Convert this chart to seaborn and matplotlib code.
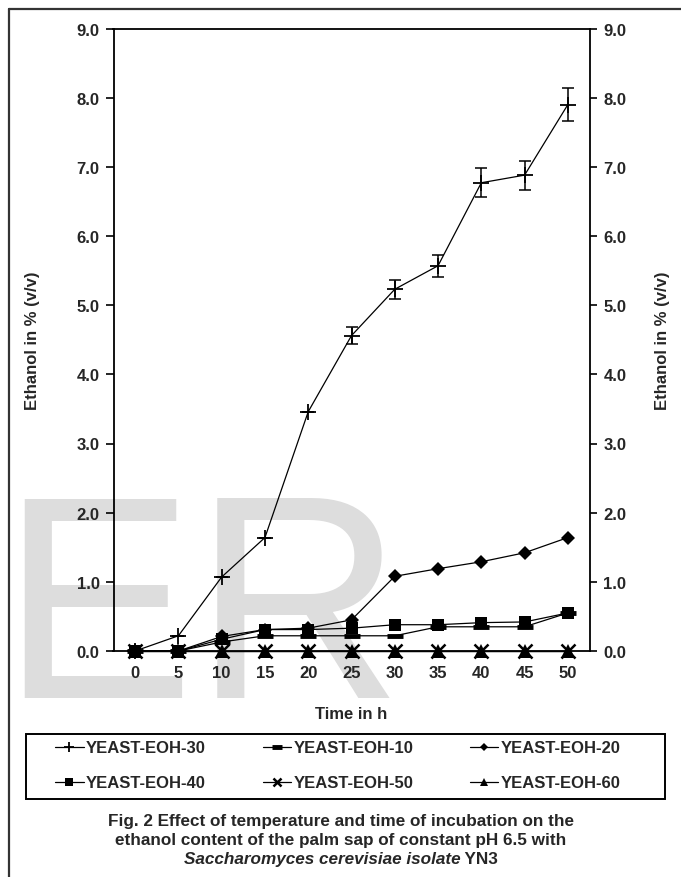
import matplotlib
matplotlib.use("Agg")
import matplotlib.pyplot as plt
from matplotlib.lines import Line2D
from matplotlib.patches import Rectangle
import seaborn as sns

# ---------------- data ----------------
time_h = [0, 5, 10, 15, 20, 25, 30, 35, 40, 45, 50]
eoh_30 = [0.0, 0.22, 1.07, 1.64, 3.46, 4.56, 5.23, 5.57, 6.77, 6.88, 7.90]
eoh_30_err = [0.0, 0.0, 0.0, 0.0, 0.0, 0.12, 0.14, 0.16, 0.21, 0.21, 0.24]
eoh_10 = [0.0, 0.0, 0.13, 0.22, 0.22, 0.22, 0.22, 0.35, 0.35, 0.35, 0.55]
eoh_20 = [0.0, 0.0, 0.21, 0.31, 0.33, 0.45, 1.08, 1.19, 1.29, 1.42, 1.64]
eoh_40 = [0.0, 0.0, 0.17, 0.31, 0.31, 0.33, 0.38, 0.38, 0.41, 0.42, 0.55]
eoh_50 = [0.0, 0.0, 0.0, 0.0, 0.0, 0.0, 0.0, 0.0, 0.0, 0.0, 0.0]
eoh_60 = [0.0, 0.0, 0.0, 0.0, 0.0, 0.0, 0.0, 0.0, 0.0, 0.0, 0.0]
series_names = ["YEAST-EOH-30", "YEAST-EOH-10", "YEAST-EOH-20",
                "YEAST-EOH-40", "YEAST-EOH-50", "YEAST-EOH-60"]
y_ticks = [0.0, 1.0, 2.0, 3.0, 4.0, 5.0, 6.0, 7.0, 8.0, 9.0]
x_tick_labels = ["0", "5", "10", "15", "20", "25", "30", "35", "40", "45", "50"]
y_label = "Ethanol in % (v/v)"
x_label = "Time in h"
caption_1 = "Fig. 2 Effect of temperature and time of incubation on the"
caption_2 = "ethanol content of the palm sap of constant pH 6.5 with"
caption_3_italic = "Saccharomyces cerevisiae isolate"
caption_3_plain = " YN3"
watermark = "ER"

# ---------------- style ----------------
sns.set_style("white")
FONT = ["Liberation Sans", "DejaVu Sans"]
plt.rcParams["font.family"] = FONT
plt.rcParams["font.weight"] = "bold"

W, H = 681, 878
fig = plt.figure(figsize=(W / 100, H / 100), dpi=100)
fig.patch.set_facecolor("white")

def fx(px):
    return px / W

def fy(py):
    return 1 - py / H

ax_l, ax_r, ax_t, ax_b = 113.5, 589.5, 29.5, 652.0
ax = fig.add_axes([fx(ax_l), fy(ax_b), fx(ax_r - ax_l), (ax_b - ax_t) / H])
ax.set_facecolor("none")

styles = {
    "YEAST-EOH-30": dict(marker="+", markersize=12, markeredgewidth=1.3),
    "YEAST-EOH-10": dict(marker="_", markersize=11, markeredgewidth=3.5),
    "YEAST-EOH-20": dict(marker="D", markersize=7.5, markeredgewidth=0),
    "YEAST-EOH-40": dict(marker="s", markersize=8.5, markeredgewidth=0),
    "YEAST-EOH-50": dict(marker="x", markersize=10, markeredgewidth=1.8),
    "YEAST-EOH-60": dict(marker="^", markersize=9.5, markeredgewidth=0),
}
series_vals = [eoh_30, eoh_10, eoh_20, eoh_40, eoh_50, eoh_60]

handles = {}
for name, vals in zip(series_names, series_vals):
    sns.lineplot(x=time_h, y=vals, ax=ax, color="black", linewidth=0.9,
                 markeredgecolor="black", markerfacecolor="black",
                 label=name, legend=False, clip_on=False, **styles[name])
    handles[name] = ax.lines[-1]

ax.errorbar(time_h, eoh_30, yerr=eoh_30_err, fmt="none", ecolor="black",
            elinewidth=1.1, capsize=4.5, capthick=1.1)

ax.set_xlim(-2.5, 52.5)
ax.set_ylim(0, 9)
ax.set_yticks(y_ticks)
ax.set_yticklabels([f"{v:.1f}" for v in y_ticks], fontsize=12, fontweight="bold")
ax.set_xticks(time_h)
ax.set_xticklabels(x_tick_labels, fontsize=12, fontweight="bold")
ax.tick_params(axis="x", which="major", length=0, pad=10)
ax.set_xticks([-2.5, 22.5, 47.5], minor=True)
ax.tick_params(axis="x", which="minor", length=4, width=1.2, direction="out", color="black")
ax.tick_params(axis="y", which="major", length=6, width=1.2, direction="out", color="black", pad=4,
               left=True)
ax.set_xlabel("")
ax.set_ylabel("")
for sp in ax.spines.values():
    sp.set_visible(True)
    sp.set_color("black")
    sp.set_linewidth(1.3)

ax2 = ax.twinx()
ax2.set_ylim(0, 9)
ax2.set_yticks(y_ticks)
ax2.set_yticklabels([f"{v:.1f}" for v in y_ticks], fontsize=12, fontweight="bold")
ax2.tick_params(axis="y", length=5, width=1.2, direction="out", color="black", pad=5, right=True)
for sp in ax2.spines.values():
    sp.set_visible(False)

# axis titles
fig.text(fx(33), fy(341), y_label, rotation=90, ha="center", va="center",
         fontsize=12, fontweight="bold")
fig.text(fx(662), fy(341), y_label, rotation=90, ha="center", va="center",
         fontsize=12, fontweight="bold")
fig.text(fx(351.5), fy(715), x_label, ha="center", va="center",
         fontsize=12, fontweight="bold")

# watermark
fig.text(fx(0), fy(698), watermark, fontsize=209, color="#dddddd",
         fontweight="normal", ha="left", va="baseline", zorder=-1)

# outer frame (left and top edges)
fig.add_artist(Line2D([fx(9), fx(9)], [fy(10), 0], transform=fig.transFigure,
                      color="#333333", linewidth=1.6))
fig.add_artist(Line2D([fx(9), 1], [fy(10), fy(10)], transform=fig.transFigure,
                      color="#333333", linewidth=1.6))

# legend (row-major order -> column-major for matplotlib)
order = ["YEAST-EOH-30", "YEAST-EOH-40", "YEAST-EOH-10",
         "YEAST-EOH-50", "YEAST-EOH-20", "YEAST-EOH-60"]
leg = fig.legend([handles[n] for n in order], order, ncol=3,
                 loc="center", bbox_to_anchor=(fx(338), fy(766.5)),
                 frameon=False, prop=dict(size=12, weight="bold"), markerscale=0.6,
                 handlelength=1.7, handletextpad=0.15, labelspacing=1.2,
                 columnspacing=3.4, borderpad=0.0, borderaxespad=0)
fig.add_artist(Rectangle((fx(26), fy(800)), fx(665) - fx(26), (800 - 735) / H,
                         transform=fig.transFigure, fill=False, edgecolor="black",
                         linewidth=1.4))

# caption
cx = 341
cap_fs = 12.3
fig.text(fx(cx), fy(822), caption_1, ha="center", va="center", fontsize=cap_fs, fontweight="bold")
fig.text(fx(cx), fy(841), caption_2, ha="center", va="center", fontsize=cap_fs, fontweight="bold")
t1 = fig.text(0, fy(860), caption_3_italic, ha="left", va="center", fontsize=cap_fs,
              fontweight="bold", style="italic")
t2 = fig.text(0, fy(860), caption_3_plain, ha="left", va="center", fontsize=cap_fs,
              fontweight="bold")
fig.canvas.draw()
r = fig.canvas.get_renderer()
w1 = t1.get_window_extent(r).width
w2 = t2.get_window_extent(r).width
x0 = cx - (w1 + w2) / 2
t1.set_x(fx(x0))
t2.set_x(fx(x0 + w1))

fig.savefig("out.png", dpi=100)
